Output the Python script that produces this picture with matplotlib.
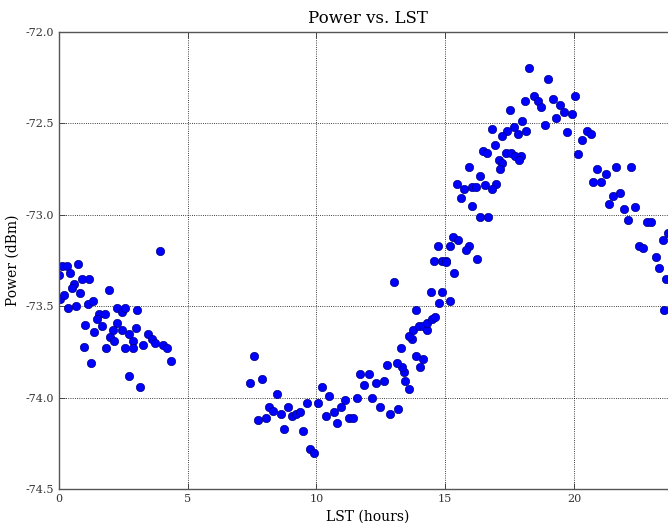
"""
Power vs. LST scatter
"""
from matplotlib import pyplot as plt
from matplotlib.ticker import FormatStrFormatter
import numpy as np

lst_early = [3.91, 0.13, 0.30, 0.74, 0.00, 0.43, 0.88, 1.17, 0.60, 0.49,
             0.80, 1.94, 0.04, 0.19, 0.34, 0.66, 1.11, 1.31, 1.55, 1.79,
             2.25, 2.43, 2.58, 3.03, 1.49, 1.66, 2.26, 1.02, 1.37, 2.11,
             2.43, 2.72, 2.99, 1.98, 2.12, 2.89, 3.44, 3.60, 3.72, 3.27,
             4.05, 4.21, 4.36, 0.96, 1.83, 2.55, 2.86, 1.24, 2.72, 3.16]
pow_early = [-73.20, -73.28, -73.28, -73.27, -73.33, -73.32, -73.35, -73.35, -73.38, -73.40,
             -73.43, -73.41, -73.46, -73.44, -73.51, -73.50, -73.49, -73.47, -73.54, -73.54,
             -73.51, -73.53, -73.51, -73.52, -73.57, -73.61, -73.59, -73.60, -73.64, -73.63,
             -73.63, -73.65, -73.62, -73.67, -73.69, -73.69, -73.65, -73.68, -73.70, -73.71,
             -73.71, -73.73, -73.80, -73.72, -73.73, -73.73, -73.73, -73.81, -73.88, -73.94]

lst_dip = [7.57, 7.42, 7.87, 8.45, 8.17, 8.30, 7.73, 8.03, 8.61, 8.88,
           9.04, 9.19, 9.35, 8.75, 9.49, 9.63, 9.75, 9.90, 10.07, 10.23,
           10.50, 10.37, 10.67, 10.80, 10.96, 11.12, 11.25, 11.42, 11.56, 11.71,
           12.03, 11.86, 12.17, 12.30, 12.62, 12.47]
pow_dip = [-73.77, -73.92, -73.90, -73.98, -74.05, -74.07, -74.12, -74.11, -74.09, -74.05,
           -74.10, -74.09, -74.08, -74.17, -74.18, -74.03, -74.28, -74.30, -74.03, -73.94,
           -73.99, -74.10, -74.08, -74.14, -74.05, -74.01, -74.11, -74.11, -74.00, -73.87,
           -73.87, -73.93, -74.00, -73.92, -73.91, -74.05]

lst_rise = [12.85, 13.15, 13.59, 13.44, 13.40, 13.31, 13.14, 12.75, 14.02, 14.15,
            13.86, 13.28, 13.70, 13.60, 13.76, 13.97, 14.12, 14.28, 14.28, 14.47,
            14.60, 13.86, 14.75, 15.20, 14.45, 14.87, 13.01, 15.34, 14.56, 14.86,
            15.05, 15.03, 16.22, 14.72, 15.18, 15.32, 15.48, 15.92, 15.81]
pow_rise = [-74.09, -74.06, -73.95, -73.91, -73.86, -73.83, -73.81, -73.82, -73.83, -73.79,
            -73.77, -73.73, -73.68, -73.66, -73.63, -73.61, -73.61, -73.63, -73.59, -73.57,
            -73.56, -73.52, -73.48, -73.47, -73.42, -73.42, -73.37, -73.32, -73.25, -73.25,
            -73.25, -73.26, -73.24, -73.17, -73.17, -73.12, -73.14, -73.17, -73.19]

lst_peak = [18.26, 18.99, 18.12, 18.45, 18.60, 18.72, 19.17, 19.46, 19.61, 19.91,
            19.30, 20.03, 18.87, 19.74, 17.53, 18.00, 18.14, 17.67, 17.81, 17.40,
            17.22, 16.80, 16.93, 16.46, 16.62, 17.38, 17.55, 17.72, 17.94, 17.86,
            17.08, 17.22, 17.13, 15.91, 16.35, 15.47, 15.75, 16.05, 16.19, 16.53,
            16.96, 16.83, 15.62, 16.06, 16.37, 16.66]
pow_peak = [-72.20, -72.26, -72.38, -72.35, -72.38, -72.41, -72.37, -72.40, -72.44, -72.45,
            -72.47, -72.35, -72.51, -72.55, -72.43, -72.49, -72.54, -72.52, -72.56, -72.54,
            -72.57, -72.53, -72.62, -72.65, -72.66, -72.66, -72.66, -72.68, -72.68, -72.70,
            -72.70, -72.72, -72.75, -72.74, -72.79, -72.83, -72.86, -72.85, -72.85, -72.84,
            -72.83, -72.86, -72.91, -72.95, -73.01, -73.01]

lst_fall = [20.17, 20.33, 20.49, 20.65, 20.91, 20.75, 21.05, 21.23, 21.64, 22.22,
            21.50, 21.79, 21.36, 21.95, 22.10, 22.38, 22.52, 22.68, 22.85, 23.01,
            23.46, 23.17, 23.29, 23.57, 23.50, 23.65]
pow_fall = [-72.67, -72.59, -72.54, -72.56, -72.75, -72.82, -72.82, -72.78, -72.74, -72.74,
            -72.90, -72.88, -72.94, -72.97, -73.03, -72.96, -73.17, -73.18, -73.04, -73.04,
            -73.14, -73.23, -73.29, -73.35, -73.52, -73.10]

lst = np.concatenate([lst_early, lst_dip, lst_rise, lst_peak, lst_fall])
power = np.concatenate([pow_early, pow_dip, pow_rise, pow_peak, pow_fall])

plt.rcParams['font.family'] = 'DejaVu Serif'
plt.rcParams['axes.unicode_minus'] = False

fig = plt.figure(figsize=(6.68, 5.23), dpi=100)
# axes runs a little past the right edge of the canvas, like the reference crop
ax = fig.add_axes([0.0883, 0.0644, 0.925, 0.875])

ax.plot(lst, power, 'o', color='#0000ff', markersize=6,
        markeredgecolor='#00007f', markeredgewidth=0.5, linestyle='none')

ax.set_xlim(0, 24)
ax.set_ylim(-74.5, -72.0)
ax.set_xticks([0, 5, 10, 15, 20])
ax.set_yticks(np.arange(-74.5, -71.99, 0.5))
ax.yaxis.set_major_formatter(FormatStrFormatter('%.1f'))

ax.grid(True, color='k', linestyle=':', linewidth=0.6)
ax.tick_params(direction='in', length=4, top=True, right=True,
               labelsize=8, colors='#333333', width=0.6)
for sp in ax.spines.values():
    sp.set_color('#555555')
    sp.set_linewidth(1.0)

ax.set_title('Power vs. LST', fontsize=12)
ax.set_xlabel('LST (hours)', fontsize=10, labelpad=4)
ax.set_ylabel('Power (dBm)', fontsize=10)

plt.savefig('out.png', dpi=100)
